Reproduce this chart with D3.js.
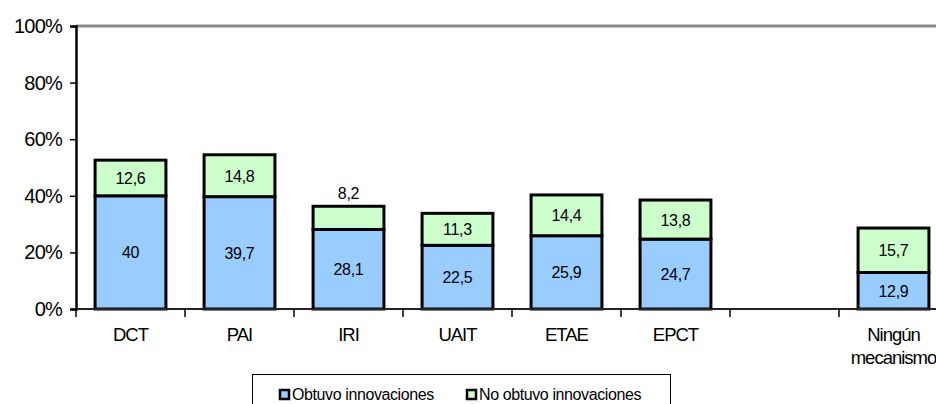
<!DOCTYPE html>
<html>
<head>
<meta charset="utf-8">
<script src="https://cdn.jsdelivr.net/npm/d3@7"></script>
<style>
	body { margin: 0; background: #fff; }
	svg { display: block; font-family: "Liberation Sans", Arial, sans-serif; }
</style>
</head>
<body>
<svg id="chart" width="936" height="404"></svg>
<script>
var categories = ["DCT", "PAI", "IRI", "UAIT", "ETAE", "EPCT", "", "Ningún mecanismo"];
var obtuvo = [40, 39.7, 28.1, 22.5, 25.9, 24.7, null, 12.9];
var noObtuvo = [12.6, 14.8, 8.2, 11.3, 14.4, 13.8, null, 15.7];
var seriesNames = ["Obtuvo innovaciones", "No obtuvo innovaciones"];
var seriesColors = ["#99ccff", "#ccffcc"];
var yTicks = [0, 20, 40, 60, 80, 100];

var svg = d3.select("#chart");
var plotLeft = 76, plotTop = 26, plotBottom = 309, bandW = 109;

var x = d3.scaleBand()
	.domain(categories)
	.range([plotLeft, plotLeft + bandW * categories.length])
	.paddingInner(0.35)
	.paddingOuter(0.175);

var y = d3.scaleLinear().domain([0, 100]).range([plotBottom, plotTop]);

var rows = categories.map(function(c, i){
	return {cat: c, obtuvo: obtuvo[i] || 0, noObtuvo: noObtuvo[i] || 0};
});
var stack = d3.stack().keys(["obtuvo", "noObtuvo"])(rows);

// top border of plot area
svg.append("line")
	.attr("x1", plotLeft).attr("x2", 936)
	.attr("y1", plotTop).attr("y2", plotTop)
	.attr("stroke", "#888").attr("stroke-width", 3);

// bars
stack.forEach(function(layer, li){
	svg.append("g").selectAll("rect")
		.data(layer.filter(function(d){ return d[1] > d[0]; }))
		.enter().append("rect")
		.attr("x", function(d){ return x(d.data.cat); })
		.attr("width", x.bandwidth())
		.attr("y", function(d){ return y(d[1]); })
		.attr("height", function(d){ return y(d[0]) - y(d[1]); })
		.attr("fill", seriesColors[li])
		.attr("stroke", "#000")
		.attr("stroke-width", 3);
});

// value labels
stack.forEach(function(layer){
	svg.append("g").selectAll("text")
		.data(layer.filter(function(d){ return d[1] > d[0]; }))
		.enter().append("text")
		.attr("x", function(d){ return x(d.data.cat) + x.bandwidth() / 2; })
		.attr("y", function(d){
			var h = y(d[0]) - y(d[1]);
			if (h < 28) return y(d[1]) - 7; // too small, put above
			return (y(d[0]) + y(d[1])) / 2 + 6;
		})
		.attr("text-anchor", "middle")
		.attr("font-size", 16)
		.attr("letter-spacing", -0.3)
		.text(function(d){ return String(+(d[1] - d[0]).toFixed(1)).replace(".", ","); });
});

// y axis
var yAxis = svg.append("g")
	.attr("transform", "translate(" + plotLeft + ",0)")
	.call(d3.axisLeft(y).tickValues(yTicks).tickSize(6).tickPadding(8)
		.tickFormat(function(d){ return d + "%"; }));
yAxis.select(".domain").attr("stroke", "#000").attr("stroke-width", 2.5);
yAxis.selectAll(".tick line").attr("stroke", "#000").attr("stroke-width", 1.5);
yAxis.selectAll("text")
	.attr("font-size", 20).attr("letter-spacing", -0.8)
	.attr("fill", "#000").attr("font-family", "Liberation Sans, Arial, sans-serif");

// x axis line and ticks between categories
svg.append("line")
	.attr("x1", plotLeft).attr("x2", 936)
	.attr("y1", plotBottom).attr("y2", plotBottom)
	.attr("stroke", "#222").attr("stroke-width", 2);
var bounds = d3.range(categories.length + 1).map(function(i){ return plotLeft + i * bandW; });
svg.append("g").selectAll("line")
	.data(bounds)
	.enter().append("line")
	.attr("x1", function(d){ return d; }).attr("x2", function(d){ return d; })
	.attr("y1", plotBottom).attr("y2", plotBottom + 8)
	.attr("stroke", "#000").attr("stroke-width", 1.5);

// category labels
var catText = svg.append("g").selectAll("text")
	.data(categories)
	.enter().append("text")
	.attr("x", function(d){ return x(d) + x.bandwidth() / 2; })
	.attr("y", 341)
	.attr("text-anchor", "middle")
	.attr("font-size", 18.5)
	.attr("letter-spacing", -1);
catText.each(function(d){
	var words = d.split(" ");
	var t = d3.select(this);
	words.forEach(function(w, i){
		t.append("tspan")
			.attr("x", x(d) + x.bandwidth() / 2)
			.attr("dy", i ? 23 : 0)
			.text(w);
	});
});

// legend
var legend = svg.append("g");
legend.append("rect")
	.attr("x", 252.5).attr("y", 374.5)
	.attr("width", 418).attr("height", 40)
	.attr("fill", "#fff").attr("stroke", "#000").attr("stroke-width", 1);
var legendX = [280, 467];
seriesNames.forEach(function(name, i){
	legend.append("rect")
		.attr("x", legendX[i]).attr("y", 390)
		.attr("width", 9).attr("height", 9)
		.attr("fill", seriesColors[i])
		.attr("stroke", "#000").attr("stroke-width", 2.5);
	legend.append("text")
		.attr("x", legendX[i] + 12).attr("y", 400)
		.attr("font-size", 16).attr("letter-spacing", -0.4)
		.text(name);
});
</script>
</body>
</html>
